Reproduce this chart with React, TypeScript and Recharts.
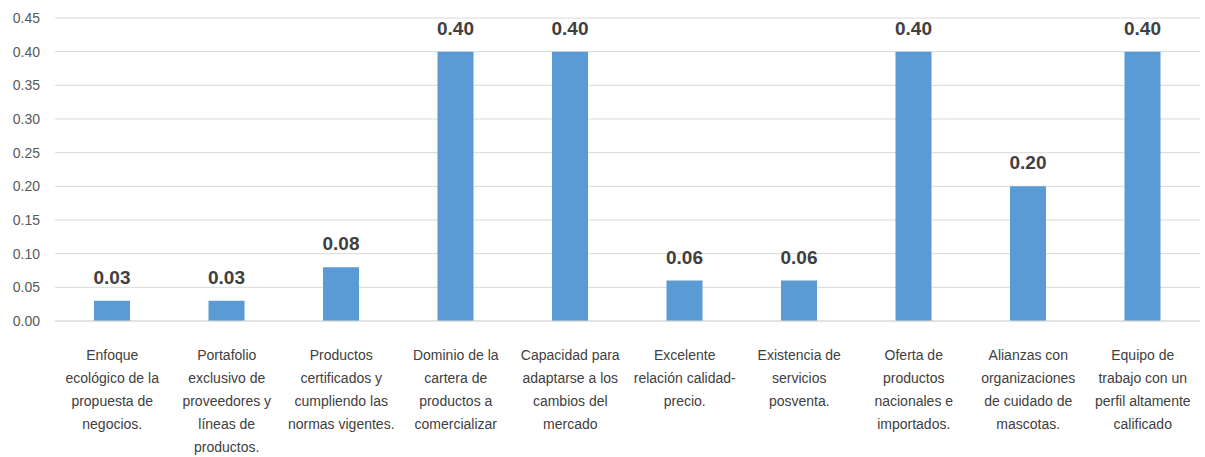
import { BarChart, Bar, XAxis, YAxis, CartesianGrid, LabelList } from 'recharts';

const categories = [
  'Enfoque\necológico de la\npropuesta de\nnegocios.',
  'Portafolio\nexclusivo de\nproveedores y\nlíneas de\nproductos.',
  'Productos\ncertificados y\ncumpliendo las\nnormas vigentes.',
  'Dominio de la\ncartera de\nproductos a\ncomercializar',
  'Capacidad para\nadaptarse a los\ncambios del\nmercado',
  'Excelente\nrelación calidad-\nprecio.',
  'Existencia de\nservicios\nposventa.',
  'Oferta de\nproductos\nnacionales e\nimportados.',
  'Alianzas con\norganizaciones\nde cuidado de\nmascotas.',
  'Equipo de\ntrabajo con un\nperfil altamente\ncalificado',
];

const values = [0.03, 0.03, 0.08, 0.4, 0.4, 0.06, 0.06, 0.4, 0.2, 0.4];

const yTicks = [0, 0.05, 0.1, 0.15, 0.2, 0.25, 0.3, 0.35, 0.4, 0.45];

const chartData = categories.map((name, i) => ({ name, value: values[i] }));

const FONT = '"Liberation Sans Narrow", "Liberation Sans", Arial, sans-serif';

const CategoryTick = ({ x, y, payload }: any) => {
  const lines = String(payload.value).split('\n');
  return (
    <text x={x} y={y + 26} textAnchor="middle" fill="#404040" fontSize={14} fontFamily={FONT}>
      {lines.map((line, i) => (
        <tspan key={i} x={x} dy={i === 0 ? 5 : 23}>
          {line}
        </tspan>
      ))}
    </text>
  );
};

const App = () => {
  return (
    <div style={{ position: 'absolute', left: 0, top: 0, background: '#fff' }}>
      <BarChart
        width={1205}
        height={457}
        data={chartData}
        margin={{ top: 18, right: 5, left: 0, bottom: 0 }}
      >
        <CartesianGrid stroke="#d9d9d9" vertical={false} />
        <XAxis
          dataKey="name"
          interval={0}
          height={136}
          tick={<CategoryTick />}
          tickLine={false}
          axisLine={{ stroke: '#d9d9d9' }}
        />
        <YAxis
          width={55}
          domain={[0, 0.45]}
          ticks={yTicks}
          tickFormatter={(v: number) => v.toFixed(2)}
          axisLine={false}
          tickLine={false}
          tickSize={0}
          tickMargin={15}
          tick={{ fontSize: 14, fill: '#595959', fontFamily: FONT }}
        />
        <Bar dataKey="value" fill="#5B9BD5" barSize={36} isAnimationActive={false}>
          <LabelList
            dataKey="value"
            position="top"
            offset={17}
            formatter={(v: any) => Number(v).toFixed(2)}
            style={{ fontSize: 19, fontWeight: 'bold', fill: '#404040', fontFamily: FONT }}
          />
        </Bar>
      </BarChart>
    </div>
  );
};

export default App;
